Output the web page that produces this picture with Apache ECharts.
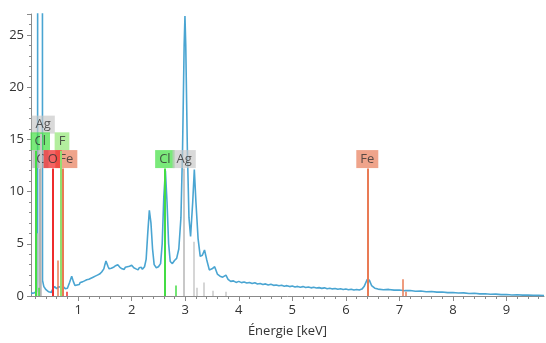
<!DOCTYPE html>
<html><head><meta charset="utf-8">
<script src="https://cdn.jsdelivr.net/npm/echarts@6/dist/echarts.min.js"></script>
<style>html,body{margin:0;padding:0;background:#fff}#c{width:546px;height:343px}</style>
</head><body><div id="c"></div><script>
// ---- spectrum (keV, counts), in segments ----
const energyLow = [0.12,0.15,0.18,0.21,0.23,0.243,0.25,0.325,0.335,0.36,0.40,0.45,0.50,0.53,0.56,0.60,0.64,0.68,0.72,0.76,0.80,0.84,0.88,0.91];
const countsLow = [0.25,0.2,0.3,0.25,0.4,1.5,200,200,1.5,0.9,0.6,0.4,0.35,0.7,0.9,0.7,0.9,0.8,0.9,0.7,0.75,1.3,1.9,1.4];

const energyPlateau = [0.94,0.96,0.98,1.00,1.02,1.04,1.06,1.08,1.10,1.12,1.14,1.16,1.18,1.20,1.22,1.24,1.26,1.28,1.30,1.32,
 1.34,1.36,1.38,1.40,1.42,1.44,1.46,1.48,1.50,1.52,1.54,1.56,1.58,1.60,1.62,1.64,1.66,1.68,1.70,1.72,
 1.74,1.76,1.78,1.80,1.82,1.84,1.86,1.88,1.90,1.92,1.94,1.96,1.98,2.00,2.02,2.04,2.06,2.08,2.10,2.12,
 2.14,2.16,2.18,2.20,2.22,2.24];
const countsPlateau = [1.0,1.15,1.05,1.2,1.1,1.3,1.2,1.35,1.25,1.45,1.3,1.55,1.45,1.6,1.5,1.7,1.6,1.8,1.65,1.9,
 1.8,2.0,1.9,2.1,2.05,2.3,2.25,2.6,3.0,3.35,3.2,2.8,2.6,2.5,2.65,2.55,2.75,2.7,2.9,2.8,
 3.0,2.85,2.75,2.85,2.6,2.7,2.55,2.75,2.6,2.8,2.7,2.85,2.75,2.95,2.8,2.7,2.8,2.6,2.65,2.5,
 2.7,2.6,2.75,2.55,2.7,2.8];

const energyPeaks = [2.27,2.30,2.33,2.36,2.39,2.42,2.46,2.50,2.54,2.57,2.60,2.63,2.66,2.69,2.72,2.76,2.80,2.84,2.88,2.92,
 2.95,2.98,2.995,3.01,3.04,3.07,3.10,3.14,3.17,3.20,3.24,3.28,3.32,3.36,3.40,3.45,3.50,3.55,3.60,3.65,
 3.70,3.76,3.80,3.85];
const countsPeaks = [3.5,6.0,8.2,7.0,4.5,3.0,2.7,2.8,3.1,5.0,9.5,12.0,9.0,5.0,3.3,3.1,3.4,3.6,4.5,7.5,
 14.0,24.0,26.8,24.0,14.0,7.5,5.7,9.0,12.1,9.0,5.5,3.8,3.9,4.4,3.5,2.5,2.6,2.8,2.1,1.9,
 1.8,2.0,1.6,1.4];

const energyTail = [3.90,3.95,4.00,4.05,4.10,4.15,4.20,4.25,4.30,4.35,4.40,4.45,4.50,4.55,4.60,4.65,4.70,4.75,4.80,4.85,
 4.90,4.95,5.00,5.05,5.10,5.15,5.20,5.25,5.30,5.35,5.40,5.45,5.50,5.55,5.60,5.65,5.70,5.75,5.80,5.85,
 5.90,5.95,6.00,6.05,6.10,6.15,6.20,6.25,6.30];
const countsTail = [1.45,1.3,1.4,1.28,1.35,1.25,1.3,1.2,1.27,1.15,1.2,1.1,1.16,1.06,1.12,1.02,1.06,0.98,1.03,0.94,
 0.99,0.9,0.96,0.87,0.92,0.84,0.9,0.82,0.86,0.78,0.84,0.76,0.8,0.73,0.78,0.7,0.75,0.68,0.72,0.65,
 0.7,0.62,0.67,0.6,0.65,0.58,0.62,0.57,0.66];

const energyHigh = [6.34,6.40,6.44,6.48,6.54,6.6,6.7,6.8,6.9,7.0,7.1,7.2,7.3,7.4,7.5,7.6,7.7,7.8,7.9,8.0,
 8.1,8.2,8.3,8.4,8.5,8.6,8.7,8.8,8.9,9.0,9.1,9.2,9.3,9.4,9.5,9.6,9.7];
const countsHigh = [0.9,1.6,1.5,1.0,0.75,0.66,0.6,0.63,0.56,0.58,0.51,0.53,0.46,0.48,0.41,0.43,0.37,0.38,0.32,0.34,
 0.28,0.3,0.24,0.26,0.2,0.22,0.17,0.18,0.13,0.15,0.1,0.12,0.08,0.09,0.06,0.07,0.05];

// ---- labelled element lines ----
const labelElements = ['Ag','Cl','F','C','Fe','O','Cl','Ag','Fe'];
const labelEnergies = [0.31,0.20,0.68,0.277,0.705,0.525,2.62,2.98,6.40];
const labelHeights  = [15.5,13.9,13.9,12.2,12.2,12.2,12.2,12.2,12.2];

// ---- minor element lines (no labels) ----
const minorElements = ['Ag','Cl','Fe','Fe','O','Cl','Ag','Ag','Ag','Ag','Ag','Fe','Fe'];
const minorEnergies = [0.25,0.26,0.615,0.72,0.78,2.815,3.15,3.22,3.35,3.52,3.75,7.06,7.11];
const minorHeights  = [6.0,0.8,3.4,3.0,0.4,1.0,5.2,0.8,1.3,0.5,0.4,1.6,0.4];

// ---- axis ticks ----
const xTickLabels = [1,2,3,4,5,6,7,8,9];
const xMinorTicks = [];
for (let i = 1; i <= 48; i++) xMinorTicks.push(+(i*0.2).toFixed(1));

// styles
const lineColor = {Ag:'#c8c8c8', C:'#b4b4b4', Cl:'#44dc44', F:'#92de70', O:'#ee2c2c', Fe:'#e97b55'};
const boxColor  = {Ag:'rgba(200,200,200,0.85)', C:'rgba(178,178,178,0.9)', Cl:'rgba(70,224,70,0.9)',
                   F:'rgba(150,232,120,0.9)', O:'rgba(240,45,45,0.92)', Fe:'rgba(232,125,90,0.88)'};
const labelOffset = [[2,0],[5,0],[1,0],[1,0],[4,0],[0,0],[0,0],[0,0],[0,0]];

const FONT = '"Open Sans", sans-serif';
const energy = [].concat(energyLow, energyPlateau, energyPeaks, energyTail, energyHigh);
const counts = [].concat(countsLow, countsPlateau, countsPeaks, countsTail, countsHigh);
const spectrum = energy.map((e,i)=>[e, counts[i]]);

const markData = [];
labelElements.forEach((el,i)=>{
  markData.push([{coord:[labelEnergies[i],0], lineStyle:{color:lineColor[el], width:2, type:'solid'}},
                 {coord:[labelEnergies[i],labelHeights[i]]}]);
});
minorElements.forEach((el,i)=>{
  markData.push([{coord:[minorEnergies[i],0], lineStyle:{color:lineColor[el], width:1.5, type:'solid'}},
                 {coord:[minorEnergies[i],minorHeights[i]]}]);
});

const labelData = labelElements.map((el,i)=>({
  value:[labelEnergies[i], labelHeights[i]],
  label:{show:true, position:'top', distance:0, formatter:el, offset:labelOffset[i],
    backgroundColor:boxColor[el], padding:[2,4,2,4], color:'#333', fontSize:13, lineHeight:14, fontFamily:FONT}
}));

const chart = echarts.init(document.getElementById('c'), null, {renderer:'canvas'});
chart.setOption({
  animation:false,
  grid:{left:31, right:2, top:14, bottom:42, containLabel:false},
  xAxis:[{
    type:'value', min:0.12, max:9.7, position:'bottom',
    name:'Énergie [keV]', nameLocation:'middle', nameGap:29,
    nameTextStyle:{color:'#333', fontSize:13, fontFamily:FONT},
    axisLine:{show:true, lineStyle:{color:'#8a8a8a', width:1}},
    axisTick:{show:true, customValues:xTickLabels, length:5, lineStyle:{color:'#8a8a8a'}},
    axisLabel:{show:true, customValues:xTickLabels, color:'#333', fontSize:13, fontFamily:FONT, margin:8},
    splitLine:{show:false}
  },{
    type:'value', min:0.12, max:9.7, position:'bottom',
    axisLine:{show:false},
    axisTick:{show:true, customValues:xMinorTicks, length:3, lineStyle:{color:'#8a8a8a'}},
    axisLabel:{show:false}, splitLine:{show:false}
  }],
  yAxis:{
    type:'value', min:0, max:27, interval:5,
    axisLine:{show:true, lineStyle:{color:'#8a8a8a', width:1}},
    axisTick:{show:true, length:4, lineStyle:{color:'#8a8a8a'}},
    minorTick:{show:true, splitNumber:5, length:2, lineStyle:{color:'#8a8a8a'}},
    axisLabel:{color:'#333', fontSize:13, fontFamily:FONT, margin:7, showMaxLabel:false},
    splitLine:{show:false}
  },
  series:[
    {type:'line', data:[], z:1, silent:true,
     markLine:{silent:true, symbol:['none','none'], label:{show:false}, animation:false, data:markData}},
    {type:'line', data:spectrum, z:2, showSymbol:false, clip:true, silent:true,
     lineStyle:{color:'#4aa5d2', width:1.6}},
    {type:'scatter', data:labelData, z:3, symbol:'rect', symbolSize:1, silent:true,
     itemStyle:{color:'rgba(0,0,0,0)'}}
  ]
});
</script></body></html>
